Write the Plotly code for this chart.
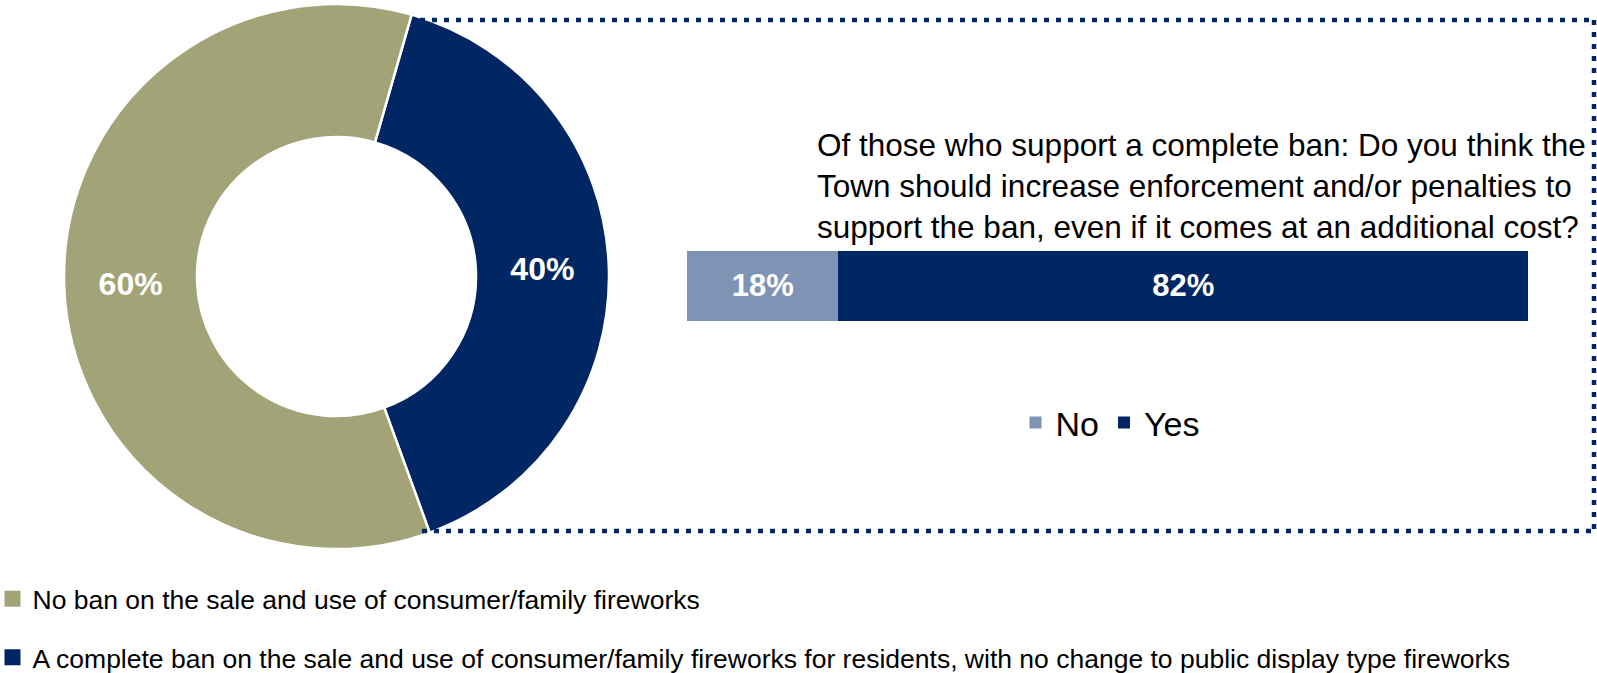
import plotly.graph_objects as go

# ---- data ----
donut_labels = [
    "A complete ban on the sale and use of consumer/family fireworks for residents, with no change to public display type fireworks",
    "No ban on the sale and use of consumer/family fireworks",
]
donut_values = [40, 60]
donut_colors = ["#002663", "#A2A477"]

bar_categories = ["No", "Yes"]
bar_values = [18, 82]
bar_colors = ["#7F93B4", "#002663"]
bar_row = ["Enforcement"]

question = ("Of those who support a complete ban: Do you think the<br>"
            "Town should increase enforcement and/or penalties to<br>"
            "support the ban, even if it comes at an additional cost?")

W, H = 1597, 673
FONT = "Liberation Sans, Arial, sans-serif"


def px_x(v):
    return v / W


def px_y(v):
    return 1 - v / H


fig = go.Figure()

# donut
fig.add_trace(go.Pie(
    labels=donut_labels,
    values=donut_values,
    marker=dict(colors=donut_colors, line=dict(color="white", width=2.5)),
    hole=0.512,
    sort=False,
    direction="clockwise",
    rotation=16,
    texttemplate="%{value}%",
    textposition="inside",
    insidetextorientation="horizontal",
    textfont=dict(family=FONT, size=32, color="white", weight="bold"),
    showlegend=False,
    hoverinfo="label+percent",
    domain=dict(x=[px_x(64), px_x(609)], y=[px_y(549), px_y(4)]),
))

# stacked bar
for cat, val, col in zip(bar_categories, bar_values, bar_colors):
    fig.add_trace(go.Bar(
        x=[val], y=bar_row, orientation="h", name=cat,
        marker=dict(color=col, line=dict(width=0)),
        width=1,
        texttemplate="%{x}%",
        textposition="inside",
        insidetextanchor="middle",
        textfont=dict(family=FONT, size=31, color="white", weight="bold"),
        legend="legend2",
        xaxis="x", yaxis="y",
    ))

# legend entries for the donut (bottom legend)
for lab, col in list(zip(donut_labels, donut_colors))[::-1]:
    fig.add_trace(go.Scatter(
        x=[None], y=[None], mode="markers",
        marker=dict(symbol="square", size=18, color=col),
        name=lab, legendgroup=lab, legend="legend", showlegend=True,
        xaxis="x", yaxis="y", hoverinfo="skip",
    ))

# dotted frame
dot = dict(color="#002663", width=4.5, dash="5px,7px")
shapes = [
    dict(type="line", xref="paper", yref="paper", x0=px_x(420), x1=px_x(1594),
         y0=px_y(20), y1=px_y(20), line=dot, layer="above"),
    dict(type="line", xref="paper", yref="paper", x0=px_x(1594), x1=px_x(1594),
         y0=px_y(20), y1=px_y(531), line=dot, layer="above"),
    dict(type="line", xref="paper", yref="paper", x0=px_x(422), x1=px_x(1594),
         y0=px_y(531), y1=px_y(531), line=dot, layer="above"),
]

fig.update_layout(
    width=W, height=H,
    margin=dict(l=0, r=0, t=0, b=0, autoexpand=False),
    paper_bgcolor="white", plot_bgcolor="white",
    barmode="stack",
    font=dict(family=FONT, color="#000000"),
    xaxis=dict(domain=[px_x(687), px_x(1528)], range=[0, 100], visible=False, fixedrange=True),
    yaxis=dict(domain=[px_y(321), px_y(250.5)], range=[-0.5, 0.5], type="category",
               visible=False, fixedrange=True),
    shapes=shapes,
    annotations=[dict(
        text=question, xref="paper", yref="paper",
        x=px_x(815), y=px_y(186), xanchor="left", yanchor="middle",
        align="left", showarrow=False,
        font=dict(family=FONT, size=31.5, color="#000000"),
    )],
    legend=dict(
        x=-0.0047, y=px_y(575), xanchor="left", yanchor="top",
        orientation="v", traceorder="grouped", tracegroupgap=21,
        font=dict(family=FONT, size=26.5, color="#000000"),
        bgcolor="rgba(0,0,0,0)",
    ),
    legend2=dict(
        x=px_x(1110), y=px_y(423), xanchor="center", yanchor="middle",
        orientation="h", traceorder="normal",
        font=dict(family=FONT, size=34, color="#000000"),
        bgcolor="rgba(0,0,0,0)",
    ),
)

fig.write_html("out.html",
               config={"displayModeBar": False},
               post_script="document.body.style.margin='0';document.body.style.overflow='hidden';")
